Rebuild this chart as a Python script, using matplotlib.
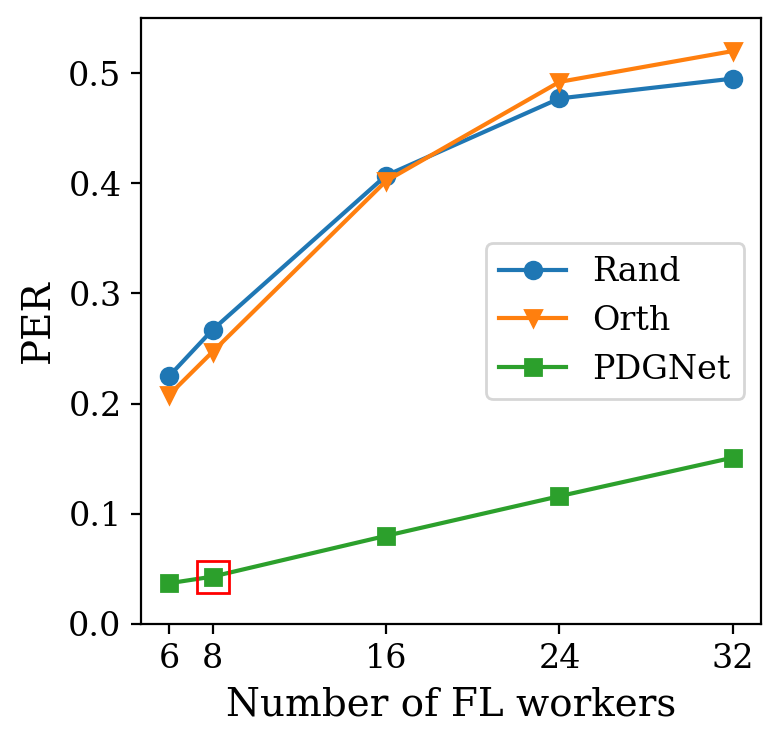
import matplotlib
matplotlib.use("Agg")
import matplotlib.pyplot as plt

workers = [6, 8, 16, 24, 32]
rand = [0.225, 0.267, 0.407, 0.477, 0.495]
orth = [0.208, 0.247, 0.402, 0.492, 0.520]
pdgnet = [0.037, 0.043, 0.080, 0.116, 0.151]
highlight_x = 8
highlight_y = 0.043

plt.rcParams['font.family'] = 'DejaVu Serif'
plt.rcParams['mathtext.fontset'] = 'dejavuserif'

fig = plt.figure(figsize=(3.9, 3.715), dpi=200)
ax = fig.add_axes([141/780, 1-624/743, 620/780, 606/743])
ax.plot(workers, rand, marker='o', color='#1f77b4', label='Rand')
ax.plot(workers, orth, marker='v', color='#ff7f0e', label='Orth')
ax.plot(workers, pdgnet, marker='s', color='#2ca02c', label='PDGNet')
ax.plot([highlight_x], [highlight_y], marker='s', markersize=11.5, markerfacecolor='none',
        markeredgecolor='red', markeredgewidth=1.0, linestyle='none')
ax.set_xticks(workers)
ax.set_ylim(0, 0.55)
ax.set_yticks([0.0, 0.1, 0.2, 0.3, 0.4, 0.5])
ax.tick_params(labelsize=12)
ax.set_xlabel('Number of FL workers', fontsize=14)
ax.set_ylabel('PER', fontsize=14)
ax.legend(loc='center right', fontsize=12)
fig.savefig('out.png', dpi=200)
